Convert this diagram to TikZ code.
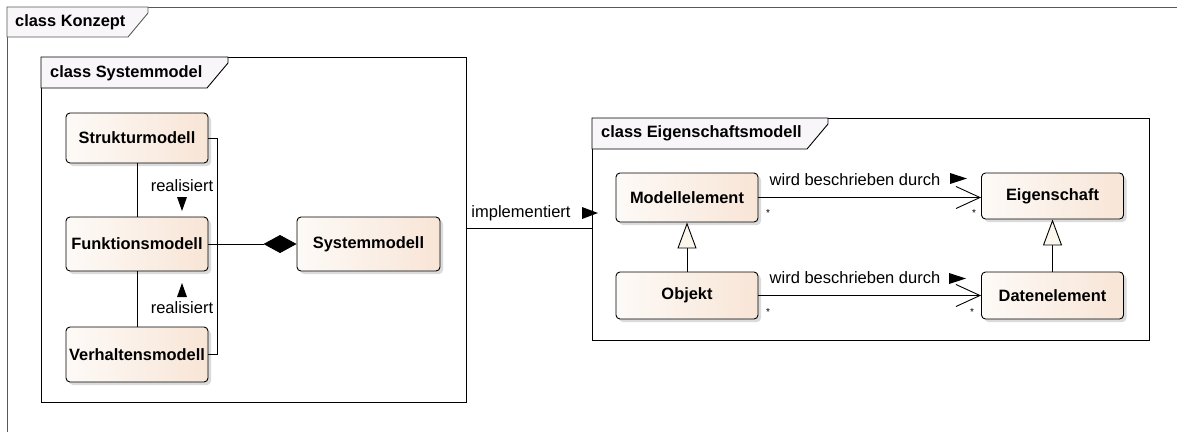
\documentclass[tikz,border=0pt]{standalone}
\usepackage{fontspec}
\setmainfont{Liberation Sans}
\usetikzlibrary{arrows.meta,shadows,calc}
\definecolor{boxL}{RGB}{253,250,247}
\definecolor{boxR}{RGB}{248,229,214}
\definecolor{tabfill}{RGB}{248,246,248}
\definecolor{genfill}{RGB}{252,247,236}
\tikzset{
  cls/.style={draw=black, line width=0.9pt, rounded corners=4pt, left color=boxL, right color=boxR,
    minimum width=142pt, inner sep=0pt, font=\fontsize{16.4}{18}\selectfont\bfseries,
    drop shadow={shadow xshift=3pt, shadow yshift=-3pt, fill=black!20, opacity=0.7}},
  pkg/.style={draw=black, line width=0.9pt, fill=white, anchor=north west, inner sep=0pt},
  tabshape/.style={draw=black, line width=0.9pt, fill=tabfill},
  ttl/.style={anchor=west, inner sep=0pt, font=\fontsize{16.4}{18}\selectfont\bfseries},
  lbl/.style={inner sep=0pt, font=\fontsize{16.5}{18}\selectfont},
  mult/.style={inner sep=0pt, font=\fontsize{10}{10}\selectfont},
  conn/.style={line width=0.9pt, draw=black},
  marker/.style={fill=black},
}
\begin{document}
\begin{tikzpicture}[x=1pt,y=-1pt]
\useasboundingbox (0,0) rectangle (1177,432);
% outer frame
\draw[line width=0.9pt, draw=black!65] (7,432) -- (7,7) -- (1177,7);
\draw[line width=0.9pt, draw=black!65, fill=tabfill] (7,7) -- (148,7) -- (148,13) -- (128,37) -- (7,37) -- cycle;
\node[ttl] (tKon) at (15,22) {class Konzept};

% package Systemmodel
\node[pkg, minimum width=425pt, minimum height=345pt] (pkgSys) at (41,57) {};
\draw[tabshape] (41,57) -- (228,57) -- (228,63) -- (207,88) -- (41,88) -- cycle;
\node[ttl] (tSys) at (50,73) {class Systemmodel};

% package Eigenschaftsmodell
\node[pkg, minimum width=557pt, minimum height=222pt] (pkgEig) at (592,118) {};
\draw[tabshape] (592,118) -- (828,118) -- (828,124) -- (807,149) -- (592,149) -- cycle;
\node[ttl] (tEig) at (601,133) {class Eigenschaftsmodell};

% classes left
\node[cls, minimum height=50pt] (struk) at (137,138) {Strukturmodell};
\node[cls, minimum height=54pt] (funk) at (137,244) {Funktionsmodell};
\node[cls, minimum height=55pt] (verh) at (137,354.5) {Verhaltensmodell};
\node[cls, minimum height=54pt, minimum width=143pt] (sysm) at (368.5,244) {Systemmodell};

% classes right
\node[cls, minimum height=49pt] (modl) at (687,197.5) {Modellelement};
\node[cls, minimum height=47pt] (obj) at (687,295.5) {Objekt};
\node[cls, minimum height=46pt] (eig) at (1052.5,196) {Eigenschaft};
\node[cls, minimum height=47pt] (dat) at (1052.5,295.5) {Datenelement};

% realisiert connectors
\draw[conn] (struk.south) -- (funk.north);
\draw[conn] (funk.south) -- (verh.north);
\node[lbl] (r1) at (182,186) {realisiert};
\fill[marker] (177,197) -- (187,197) -- (182,211) -- cycle;
\node[lbl] (r2) at (182,308) {realisiert};
\fill[marker] (177,297) -- (187,297) -- (182,283) -- cycle;

% composition bracket
\coordinate (br) at (217,0);
\draw[conn] (struk.east) -- (struk.east -| br) -- (verh.east -| br) -- (verh.east);
\draw[conn, -{Diamond[length=33pt, width=18pt]}] (funk.east) -- (sysm.west);

% implementiert
\coordinate (impl) at (0,228);
\draw[conn] (pkgSys.east |- impl) -- (pkgEig.west |- impl);
\node[lbl] (tImpl) at (521,213) {implementiert};
\fill[marker] (582,207) -- (598,213) -- (582,219) -- cycle;

% wird beschrieben durch
\draw[conn, -{Straight Barb[length=24pt, width=22pt]}] (modl.east) -- (eig.west |- modl.east);
\node[lbl] (w1) at (855,180) {wird beschrieben durch};
\fill[marker] (950,173) -- (967,178.5) -- (950,184) -- cycle;
\node[mult] (m1) at (768,213) {*};
\node[mult] (m2) at (974,213) {*};

\draw[conn, -{Straight Barb[length=24pt, width=22pt]}] (obj.east) -- (dat.west |- obj.east);
\node[lbl] (w2) at (855,278) {wird beschrieben durch};
\fill[marker] (949,273) -- (966,278.5) -- (949,284) -- cycle;
\node[mult] (m3) at (768,312) {*};
\node[mult] (m4) at (972,312) {*};

% generalizations
\draw[conn, -{Triangle[open, length=26pt, width=19pt, fill=genfill]}] (obj.north) -- (modl.south);
\draw[conn, -{Triangle[open, length=26pt, width=19pt, fill=genfill]}] (dat.north) -- (eig.south);
\end{tikzpicture}
\end{document}
